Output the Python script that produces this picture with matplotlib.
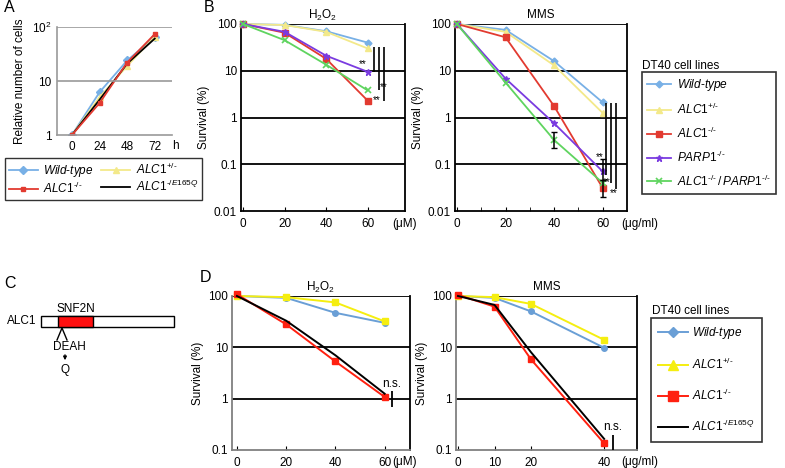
import matplotlib
matplotlib.use("Agg")
import matplotlib.pyplot as plt
from matplotlib.patches import Rectangle
from matplotlib.lines import Line2D

plt.rcParams['font.family'] = ['Liberation Sans', 'DejaVu Sans']
plt.rcParams['mathtext.fontset'] = 'custom'
plt.rcParams['mathtext.rm'] = 'Liberation Sans'
plt.rcParams['mathtext.it'] = 'Liberation Sans:italic'

W, H = 785, 468

# ---- panel A: growth ----
a_hours = [0, 24, 48, 72]
a_wt = [1, 6.2, 24, 65]
a_het = [1, 5.0, 19, 66]
a_ko = [1, 3.9, 22, 74]
a_e165q = [1, 4.5, 21, 61]

# ---- panel B: survival ----
b_h2o2_dose = [0, 20, 40, 60]
b_h2o2_wt = [100, 96, 70, 40]
b_h2o2_het = [100, 95, 68, 30]
b_h2o2_ko = [100, 65, 18, 2.3]
b_h2o2_parp = [100, 68, 21, 9.5]
b_h2o2_dko = [100, 45, 13.5, 3.8]

b_mms_dose = [0, 20, 40, 60]
b_mms_wt = [100, 75, 16, 2.1]
b_mms_het = [100, 68, 13, 1.25]
b_mms_ko = [100, 52, 1.75, 0.031]
b_mms_parp = [100, 6.8, 0.75, 0.07]
b_mms_dko = [100, 5.6, 0.33, 0.04]
# lower / upper error bar ends (None = no visible bar)
b_mms_dko_lo = [None, None, 0.22, None]
b_mms_dko_hi = [None, None, 0.48, None]
b_mms_parp_lo = [None, None, None, 0.045]
b_mms_parp_hi = [None, None, None, 0.13]
b_mms_ko_lo = [None, None, None, 0.02]
b_mms_ko_hi = [None, None, None, 0.045]

# ---- panel D: survival ----
d_h2o2_dose = [0, 20, 40, 60]
d_h2o2_wt = [100, 92, 47, 30]
d_h2o2_het = [100, 95, 75, 32]
d_h2o2_ko = [108, 28, 5.3, 1.08]
d_h2o2_e165q = [100, 33, 7, 1.25]

d_mms_dose = [0, 10, 20, 40]
d_mms_wt = [100, 92, 50, 9.8]
d_mms_het = [100, 95, 70, 14]
d_mms_ko = [105, 62, 5.8, 0.135]
d_mms_e165q = [100, 67, 8, 0.165]

HY = '\u2010'
lab_wt = r'$\mathit{Wild}$-$\mathit{type}$'
lab_het = r'$\mathit{ALC1}^{\mathit{+/' + HY + '}}$'
lab_ko = r'$\mathit{ALC1}^{\mathit{' + HY + '/' + HY + '}}$'
lab_e165q = r'$\mathit{ALC1}^{\mathit{' + HY + '/E165Q}}$'
lab_parp = r'$\mathit{PARP1}^{\mathit{' + HY + '/' + HY + '}}$'
lab_dko = (r'$\mathit{ALC1}^{\mathit{' + HY + '/' + HY + r'}}\mathit{\,/\,PARP1}^{\mathit{'
           + HY + '/' + HY + '}}$')

c_wt = '#78b0e6'
c_het_b = '#f3e98a'
c_ko_b = '#e23a30'
c_parp = '#7a3be0'
c_dko = '#5fd45f'
c_wt_d = '#6a9fd6'
c_het_d = '#f5ee10'
c_ko_d = '#ff2010'

FS = 8.5


def px_axes(fig, left, top, right, bottom):
    return fig.add_axes([left / W, 1 - bottom / H, (right - left) / W, (bottom - top) / H])


fig = plt.figure(figsize=(W / 100, H / 100), dpi=100)
ov = fig.add_axes([0, 0, 1, 1])
ov.set_xlim(0, W)
ov.set_ylim(H, 0)
ov.axis('off')

# ================= A
axA = px_axes(fig, 57, 27, 172, 135)
axA.plot(a_hours, a_wt, '-D', color=c_wt, ms=4, lw=1.3, label=lab_wt)
axA.plot(a_hours, a_het, '-^', color=c_het_b, ms=4, lw=1.3, label=lab_het)
axA.plot(a_hours, a_e165q, '-', color='black', lw=1.3, label=lab_e165q)
axA.plot(a_hours, a_ko, '-s', color=c_ko_b, ms=3, lw=1.3, label=lab_ko)
axA.set_yscale('log')
axA.set_ylim(1, 100)
axA.set_xlim(-13, 87)
axA.set_xticks(a_hours)
axA.set_yticks([1, 10, 100])
axA.set_yticklabels(['1', '10', r'$10^2$'])
axA.minorticks_off()
axA.tick_params(length=0, labelsize=FS, pad=4)
for y in [10, 100]:
    axA.axhline(y, color='#9a9a9a', lw=1.2)
for s in ['top', 'right']:
    axA.spines[s].set_visible(False)
for s in ['left', 'bottom']:
    axA.spines[s].set_color('#9a9a9a')
    axA.spines[s].set_linewidth(1.2)
axA.set_ylabel('Relative number of cells', fontsize=FS, labelpad=4)
ov.text(175, 146, 'h', fontsize=FS, ha='center', va='center')
hA, lA = axA.get_legend_handles_labels()
order = [0, 3, 1, 2]
legA = fig.legend([hA[i] for i in order], [lA[i] for i in order], ncol=2, loc='upper left',
                  bbox_to_anchor=(5 / W, 1 - 158 / H), bbox_transform=fig.transFigure,
                  fontsize=FS, frameon=True, fancybox=False, edgecolor='black',
                  handlelength=2.5, handletextpad=0.45, labelspacing=0.2, columnspacing=0.6,
                  borderpad=0.3, borderaxespad=0)
legA.get_frame().set_linewidth(1.0)


def survival_axes(ax, xlim, ylim, xticks, minor=None):
    ax.set_yscale('log')
    ax.set_xlim(*xlim)
    ax.set_ylim(*ylim)
    ax.set_xticks(xticks)
    ax.minorticks_off()
    if minor is not None:
        ax.set_xticks(minor, minor=True)
    yt = [t for t in [0.01, 0.1, 1, 10, 100] if ylim[0] <= t <= ylim[1]]
    ax.set_yticks(yt)
    ax.set_yticklabels([('%g' % t) for t in yt])
    ax.tick_params(axis='y', length=0, labelsize=FS, pad=3)
    ax.tick_params(axis='x', which='both', direction='in', length=3, labelsize=FS, pad=5)
    for t in yt[1:]:
        ax.axhline(t, color='black', lw=1.3, zorder=1)
    ax.spines['top'].set_visible(False)
    for s in ['left', 'bottom', 'right']:
        ax.spines[s].set_linewidth(1.3)
    ax.set_ylabel('Survival (%)', fontsize=FS, labelpad=3)


# ================= B H2O2
axB1 = px_axes(fig, 241, 24, 405, 211)
kw = dict(lw=1.3, clip_on=False, zorder=3)
axB1.plot(b_h2o2_dose, b_h2o2_wt, '-D', color=c_wt, ms=3.5, **kw)
axB1.plot(b_h2o2_dose, b_h2o2_het, '-^', color=c_het_b, ms=4, **kw)
axB1.plot(b_h2o2_dose, b_h2o2_ko, '-s', color=c_ko_b, ms=4, **kw)
axB1.plot(b_h2o2_dose, b_h2o2_parp, '-*', color=c_parp, ms=5, **kw)
axB1.plot(b_h2o2_dose, b_h2o2_dko, '-x', color=c_dko, ms=4, mew=1.2, **kw)
survival_axes(axB1, (-1, 78), (0.01, 100), [0, 20, 40, 60])
axB1.set_title(r'H$_2$O$_2$', fontsize=FS, pad=4)
for x, ybot in [(63, b_h2o2_parp[3]), (65.4, b_h2o2_dko[3]), (67.8, b_h2o2_ko[3])]:
    axB1.vlines(x, ybot, 33, color='black', lw=1.2, zorder=4)
axB1.text(57.5, 14, '**', fontsize=7, ha='center', va='center')
axB1.text(66, 4.4, '**', fontsize=7, ha='left', va='center')
axB1.text(62.5, 2.4, '**', fontsize=7, ha='left', va='center')
ov.text(405, 224, '(\u03bcM)', fontsize=FS, ha='center', va='center')

# ================= B MMS
axB2 = px_axes(fig, 455, 24, 627, 211)
axB2.plot(b_mms_dose, b_mms_wt, '-D', color=c_wt, ms=3.5, **kw)
axB2.plot(b_mms_dose, b_mms_het, '-^', color=c_het_b, ms=4, **kw)
axB2.plot(b_mms_dose, b_mms_ko, '-s', color=c_ko_b, ms=4, **kw)
axB2.plot(b_mms_dose, b_mms_parp, '-*', color=c_parp, ms=5, **kw)
axB2.plot(b_mms_dose, b_mms_dko, '-x', color=c_dko, ms=4, mew=1.2, **kw)
for xs, lo, hi in [(b_mms_dose, b_mms_dko_lo, b_mms_dko_hi),
                   (b_mms_dose, b_mms_parp_lo, b_mms_parp_hi),
                   (b_mms_dose, b_mms_ko_lo, b_mms_ko_hi)]:
    for x, l, h in zip(xs, lo, hi):
        if l is not None:
            m = (l * h) ** 0.5
            axB2.errorbar([x], [m], yerr=[[m - l], [h - m]],
                          fmt='none', ecolor='black', elinewidth=1.1, capsize=2, zorder=5)
survival_axes(axB2, (-0.8, 70), (0.01, 100), [0, 20, 40, 60], minor=[10, 30, 50])
axB2.set_title('MMS', fontsize=FS, pad=4)
for x, ybot in [(61.3, 0.06), (63.5, 0.04), (65.6, 0.03)]:
    axB2.vlines(x, ybot, 2.0, color='black', lw=1.2, zorder=4)
axB2.text(58.8, 0.14, '**', fontsize=7, ha='center', va='center')
axB2.text(61.7, 0.041, '**', fontsize=7, ha='center', va='center')
axB2.text(64.5, 0.024, '**', fontsize=7, ha='center', va='center')
ov.text(640, 224, '(\u03bcg/ml)', fontsize=FS, ha='center', va='center')

# legend B
legB = fig.legend(axB2.get_lines()[:5], [lab_wt, lab_het, lab_ko, lab_parp, lab_dko],
                  loc='upper left',
                  bbox_to_anchor=(642 / W, 1 - 72 / H), bbox_transform=fig.transFigure,
                  fontsize=8.6, frameon=True, fancybox=False, edgecolor='black',
                  handlelength=2.0, handletextpad=0.5, labelspacing=0.72,
                  borderpad=0.45, borderaxespad=0)
legB.get_frame().set_linewidth(1.2)
ov.text(642, 66, 'DT40 cell lines', fontsize=FS, ha='left', va='center')

# ================= C
ov.add_patch(Rectangle((41, 316), 133, 11, facecolor='white', edgecolor='black', lw=1))
ov.add_patch(Rectangle((58, 316), 35, 11, facecolor='#ff1010', edgecolor='black', lw=1))
ov.text(76, 309, 'SNF2N', fontsize=FS, ha='center', va='center')
ov.text(36, 321.5, 'ALC1', fontsize=FS, ha='right', va='center')
ov.plot([57, 62, 67], [340, 328, 340], color='black', lw=1)
ov.text(69, 347, 'DEAH', fontsize=FS, ha='center', va='center')
ov.annotate('', xy=(65, 363), xytext=(65, 352),
            arrowprops=dict(arrowstyle='-|>', lw=0.9, color='black', mutation_scale=5))
ov.text(65, 370, 'Q', fontsize=FS, ha='center', va='center')

# ================= D H2O2
axD1 = px_axes(fig, 232, 296, 410, 450)
kd = dict(lw=1.4, clip_on=False)
axD1.plot(d_h2o2_dose, d_h2o2_wt, '-o', color=c_wt_d, ms=4, zorder=3, **kd)
axD1.plot(d_h2o2_dose, d_h2o2_het, '-s', color=c_het_d, ms=5, zorder=3, **kd)
axD1.plot(d_h2o2_dose, d_h2o2_ko, '-s', color=c_ko_d, ms=5, zorder=3, **kd)
axD1.plot(d_h2o2_dose, d_h2o2_e165q, '-', color='black', zorder=4, **kd)
survival_axes(axD1, (-2, 70.3), (0.1, 100), [0, 20, 40, 60])
for s in ['left', 'bottom']:
    axD1.spines[s].set_color('#808080')
axD1.set_title(r'H$_2$O$_2$', fontsize=FS, pad=4)
axD1.vlines(63, 0.7, 1.4, color='black', lw=1.3, zorder=5)
axD1.text(63, 1.9, 'n.s.', fontsize=FS, ha='center', va='center')
ov.text(405, 462, '(\u03bcM)', fontsize=FS, ha='center', va='center')

# ================= D MMS
axD2 = px_axes(fig, 456, 296, 637, 450)
axD2.plot(d_mms_dose, d_mms_wt, '-o', color=c_wt_d, ms=4, zorder=3, **kd)
axD2.plot(d_mms_dose, d_mms_het, '-s', color=c_het_d, ms=5, zorder=3, **kd)
axD2.plot(d_mms_dose, d_mms_ko, '-s', color=c_ko_d, ms=5, zorder=3, **kd)
axD2.plot(d_mms_dose, d_mms_e165q, '-', color='black', zorder=4, **kd)
survival_axes(axD2, (-0.55, 49), (0.1, 100), [0, 10, 20, 40])
for s in ['left', 'bottom']:
    axD2.spines[s].set_color('#808080')
axD2.set_title('MMS', fontsize=FS, pad=4)
axD2.vlines(42.3, 0.1, 0.2, color='black', lw=1.3, zorder=5)
axD2.text(42.3, 0.28, 'n.s.', fontsize=FS, ha='center', va='center')
ov.text(640, 462, '(\u03bcg/ml)', fontsize=FS, ha='center', va='center')

hD = [Line2D([], [], color=c_wt_d, marker='D', ms=5, lw=1.4),
      Line2D([], [], color=c_het_d, marker='^', ms=7, lw=1.4),
      Line2D([], [], color=c_ko_d, marker='s', ms=7, lw=1.4),
      Line2D([], [], color='black', lw=1.4)]
legD = fig.legend(hD, [lab_wt, lab_het, lab_ko, lab_e165q], loc='upper left',
                  bbox_to_anchor=(651 / W, 1 - 318 / H), bbox_transform=fig.transFigure,
                  fontsize=FS, frameon=True, fancybox=False, edgecolor='black',
                  handlelength=2.5, handletextpad=0.4, labelspacing=1.35,
                  borderpad=0.6, borderaxespad=0)
legD.get_frame().set_linewidth(1.2)
ov.text(652, 311, 'DT40 cell lines', fontsize=FS, ha='left', va='center')

# panel letters
for x, y, s in [(4, 8, 'A'), (204, 8, 'B'), (4, 283, 'C'), (200, 278, 'D')]:
    ov.text(x, y, s, fontsize=11.5, ha='left', va='center')

fig.savefig('out.png', dpi=100)
